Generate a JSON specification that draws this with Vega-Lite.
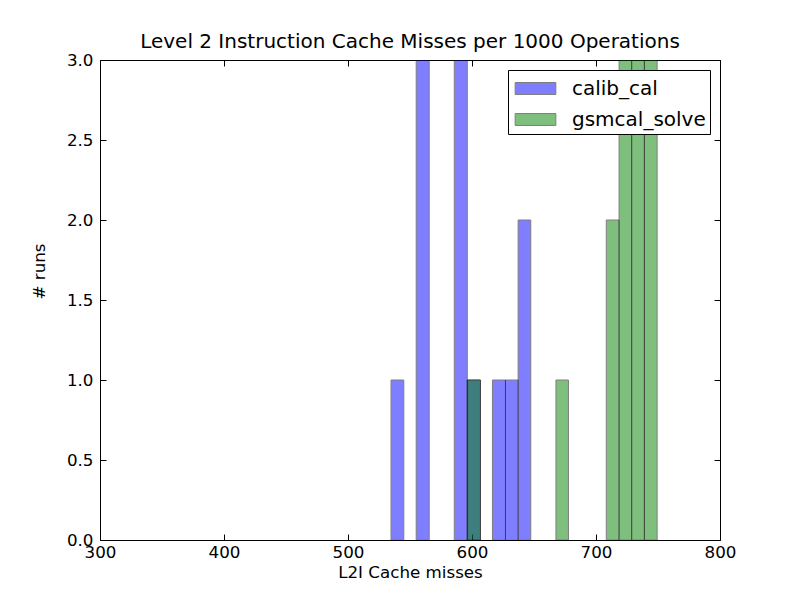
{
  "$schema": "https://vega.github.io/schema/vega-lite/v6.json",
  "width": 620,
  "height": 480,
  "autosize": "none",
  "padding": {"left": 100, "top": 60, "right": 80, "bottom": 60},
  "background": "white",
  "title": {
    "text": "Level 2 Instruction Cache Misses per 1000 Operations",
    "fontSize": 20,
    "fontWeight": "normal",
    "font": "DejaVu Sans",
    "color": "black",
    "baseline": "alphabetic",
    "frame": "group",
    "offset": 10,
    "dy": 26,
    "anchor": "middle"
  },
  "data": {
    "values": [
      {"series": "calib_cal", "start": 534.7, "end": 545.0, "count": 1},
      {"series": "calib_cal", "start": 555.0, "end": 565.5, "count": 3},
      {"series": "calib_cal", "start": 585.7, "end": 596.2, "count": 3},
      {"series": "calib_cal", "start": 596.2, "end": 606.8, "count": 1},
      {"series": "calib_cal", "start": 616.5, "end": 627.0, "count": 1},
      {"series": "calib_cal", "start": 627.0, "end": 637.2, "count": 1},
      {"series": "calib_cal", "start": 637.2, "end": 647.4, "count": 2},
      {"series": "gsmcal_solve", "start": 596.2, "end": 606.8, "count": 1},
      {"series": "gsmcal_solve", "start": 667.7, "end": 677.8, "count": 1},
      {"series": "gsmcal_solve", "start": 708.3, "end": 718.6, "count": 2},
      {"series": "gsmcal_solve", "start": 718.6, "end": 728.8, "count": 3},
      {"series": "gsmcal_solve", "start": 728.8, "end": 739.0, "count": 3},
      {"series": "gsmcal_solve", "start": 739.0, "end": 749.3, "count": 3}
    ]
  },
  "layer": [
    {
      "mark": {"type": "bar", "opacity": 0.5, "stroke": "black", "strokeWidth": 1, "clip": true},
      "encoding": {
        "x": {
          "field": "start",
          "type": "quantitative",
          "scale": {"domain": [300, 800], "nice": false, "zero": false, "padding": 0},
          "axis": {
            "orient": "bottom",
            "values": [300, 400, 500, 600, 700, 800],
            "format": "d",
            "title": "L2I Cache misses",
            "titleY": 37,
            "titleBaseline": "alphabetic",
            "labelPadding": 10
          }
        },
        "x2": {"field": "end"},
        "y": {
          "field": "count",
          "type": "quantitative",
          "scale": {"domain": [0, 3], "nice": false, "padding": 0},
          "axis": {
            "orient": "left",
            "values": [0, 0.5, 1, 1.5, 2, 2.5, 3],
            "format": ".1f",
            "title": "# runs",
            "titleAngle": 270,
            "titleX": -56,
            "titleY": 211,
            "titleAlign": "center",
            "titleBaseline": "alphabetic",
            "labelPadding": 13
          }
        },
        "y2": {"datum": 0},
        "color": {
          "field": "series",
          "type": "nominal",
          "scale": {"domain": ["calib_cal", "gsmcal_solve"], "range": ["#0000ff", "#008000"]},
          "legend": {
            "title": null,
            "orient": "top-right",
            "offset": 10,
            "symbolType": "M-1.5,-0.44H1.5V0.44H-1.5Z",
            "symbolSize": 735,
            "symbolOpacity": 0.5,
            "symbolStrokeColor": "black",
            "symbolStrokeWidth": 1,
            "symbolOffset": 9,
            "labelOffset": 22,
            "labelFontSize": 20,
            "labelFont": "DejaVu Sans",
            "labelColor": "black",
            "rowPadding": 6,
            "padding": 4,
            "strokeColor": "black",
            "fillColor": "white"
          }
        }
      }
    },
    {
      "mark": {"type": "bar", "opacity": 0},
      "encoding": {
        "x": {
          "field": "start",
          "type": "quantitative",
          "axis": {"orient": "top", "values": [300, 400, 500, 600, 700, 800], "labels": false, "title": null}
        },
        "x2": {"field": "end"},
        "y": {
          "field": "count",
          "type": "quantitative",
          "axis": {"orient": "right", "values": [0, 0.5, 1, 1.5, 2, 2.5, 3], "labels": false, "title": null}
        },
        "y2": {"datum": 0}
      }
    }
  ],
  "resolve": {"axis": {"x": "independent", "y": "independent"}},
  "config": {
    "font": "DejaVu Sans",
    "view": {"stroke": "black", "strokeWidth": 1},
    "axis": {
      "grid": false,
      "domain": false,
      "tickSize": -6,
      "tickColor": "black",
      "tickWidth": 1,
      "labelFont": "DejaVu Sans",
      "labelFontSize": 16.7,
      "labelColor": "black",
      "labelFlush": false,
      "labelOverlap": false,
      "labelBound": false,
      "titleFont": "DejaVu Sans",
      "titleFontSize": 16.7,
      "titleFontWeight": "normal",
      "titleColor": "black"
    }
  }
}
